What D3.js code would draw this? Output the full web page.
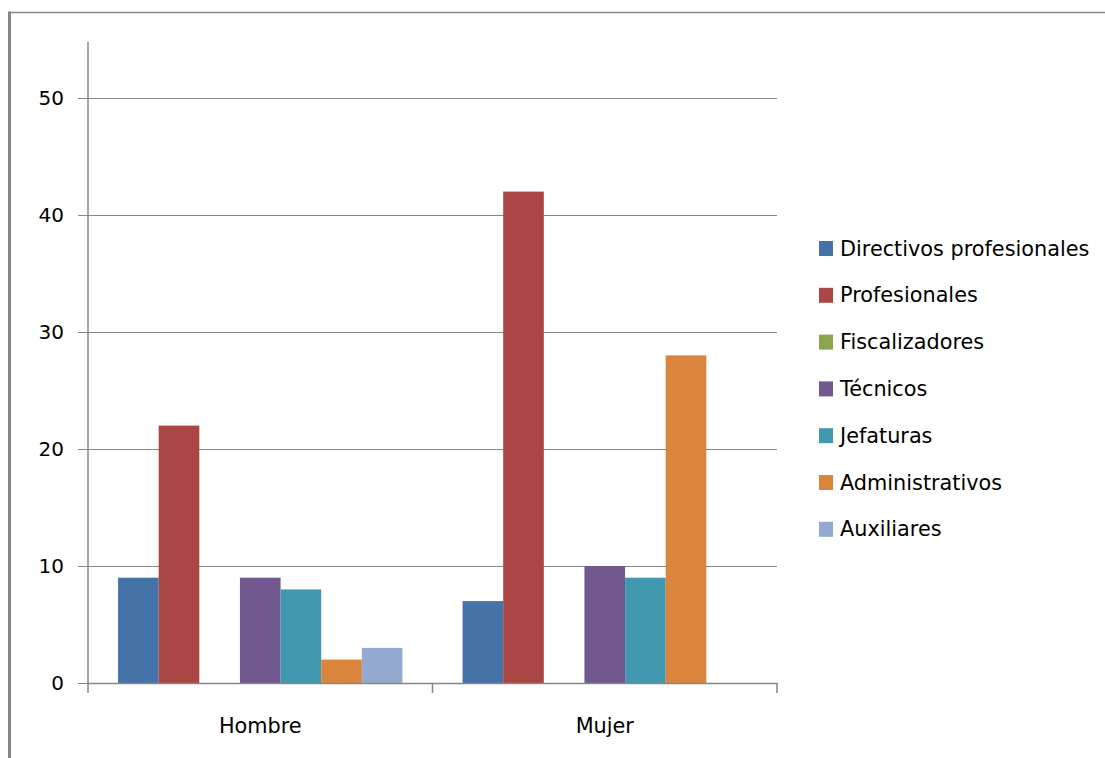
<!DOCTYPE html>
<html>
<head>
<meta charset="utf-8">
<script src="https://cdn.jsdelivr.net/npm/d3@7"></script>
<style>
  html, body { margin: 0; padding: 0; background: #ffffff; }
  svg { display: block; }
  text { font-family: "DejaVu Sans", sans-serif; fill: #000; }
</style>
</head>
<body>
<svg id="chart" width="1105" height="758"></svg>
<script>
const categories = ["Hombre", "Mujer"];
const seriesNames = ["Directivos profesionales", "Profesionales", "Fiscalizadores", "Técnicos", "Jefaturas", "Administrativos", "Auxiliares"];
const hombreValues = [9, 22, 0, 9, 8, 2, 3];
const mujerValues = [7, 42, 0, 10, 9, 28, 0];
const seriesColors = ["#4572A7", "#AA4643", "#89A54E", "#71588F", "#4198AF", "#DB843D", "#93A9CF"];
const yTicks = [0, 10, 20, 30, 40, 50];

const valuesByCategory = { "Hombre": hombreValues, "Mujer": mujerValues };

const svg = d3.select("#chart");
const plotLeft = 88, plotRight = 777, plotTop = 98, plotBottom = 683;
const grey = "#878787";

// outer frame
svg.append("line").attr("x1", 9).attr("x2", 1105).attr("y1", 12.5).attr("y2", 12.5)
  .attr("stroke", grey).attr("stroke-width", 1.5);
svg.append("line").attr("x1", 9.5).attr("x2", 9.5).attr("y1", 11.5).attr("y2", 758)
  .attr("stroke", grey).attr("stroke-width", 3);

const y = d3.scaleLinear().domain([0, 50]).range([plotBottom, plotTop]);
const x0 = d3.scaleBand().domain(categories).range([plotLeft, plotRight]).padding(0);
const x1 = d3.scaleBand().domain(seriesNames)
  .range([0, x0.bandwidth()]).paddingInner(0).paddingOuter(0.74);

// gridlines
svg.append("g").selectAll("line").data(yTicks.filter(d => d > 0)).join("line")
  .attr("x1", plotLeft).attr("x2", plotRight)
  .attr("y1", d => Math.round(y(d)) + 0.5).attr("y2", d => Math.round(y(d)) + 0.5)
  .attr("stroke", grey).attr("stroke-width", 1);

// bars
const groups = svg.append("g").selectAll("g").data(categories).join("g")
  .attr("transform", d => `translate(${x0(d)},0)`);
groups.selectAll("rect")
  .data(c => seriesNames.map((s, i) => ({ s, i, v: valuesByCategory[c][i] })))
  .join("rect")
  .attr("x", d => x1(d.s))
  .attr("width", x1.bandwidth())
  .attr("y", d => y(d.v))
  .attr("height", d => y(0) - y(d.v))
  .attr("fill", d => seriesColors[d.i]);

// y axis
const yAxis = d3.axisLeft(y).tickValues(yTicks).tickSize(10).tickPadding(14).tickFormat(d3.format("d"));
const gy = svg.append("g").attr("transform", `translate(${plotLeft},0)`).call(yAxis);
gy.select(".domain").remove();
gy.selectAll(".tick line").attr("stroke", grey).attr("stroke-width", 1);
gy.selectAll(".tick text").style("font-family", "DejaVu Sans").style("font-size", "20px").attr("fill", "#000");
svg.append("line").attr("x1", plotLeft).attr("x2", plotLeft).attr("y1", 42).attr("y2", plotBottom + 10)
  .attr("stroke", grey).attr("stroke-width", 1.5);

// x axis
svg.append("line").attr("x1", plotLeft).attr("x2", plotRight + 0.75).attr("y1", plotBottom + 0.5).attr("y2", plotBottom + 0.5)
  .attr("stroke", grey).attr("stroke-width", 1.5);
const boundaries = [x0(categories[1]), plotRight];
svg.append("g").selectAll("line").data(boundaries).join("line")
  .attr("x1", d => d).attr("x2", d => d).attr("y1", plotBottom).attr("y2", plotBottom + 10)
  .attr("stroke", grey).attr("stroke-width", 1.5);
svg.append("g").selectAll("text").data(categories).join("text")
  .attr("x", d => x0(d) + x0.bandwidth() / 2)
  .attr("y", 733)
  .attr("text-anchor", "middle")
  .style("font-size", "20.8px")
  .text(d => d);

// legend
const legend = svg.append("g").selectAll("g").data(seriesNames).join("g")
  .attr("transform", (d, i) => `translate(819,${248.5 + i * 46.8})`);
legend.append("rect").attr("x", 0).attr("y", -7.5).attr("width", 14).attr("height", 15)
  .attr("fill", (d, i) => seriesColors[i]);
legend.append("text").attr("x", 21).attr("y", 7).style("font-size", "20.8px").text(d => d);
</script>
</body>
</html>
